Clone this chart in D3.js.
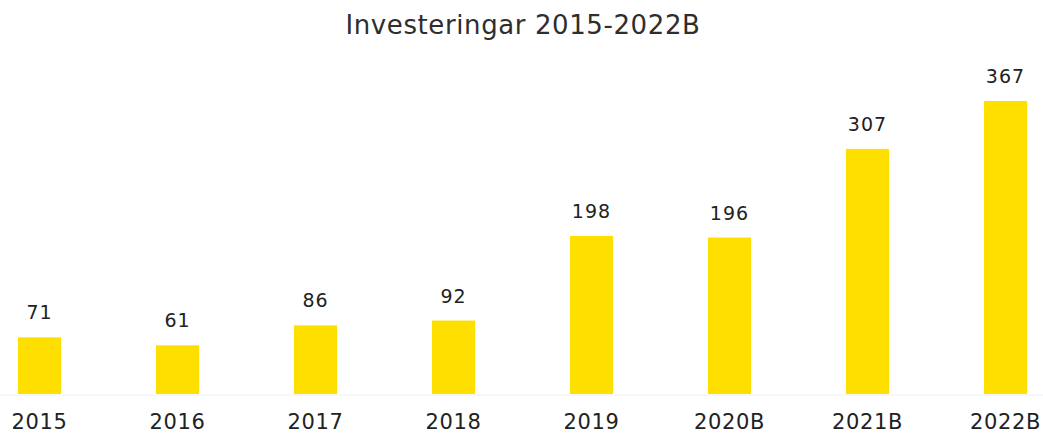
<!DOCTYPE html>
<html>
<head>
<meta charset="utf-8">
<script src="https://cdn.jsdelivr.net/npm/d3@7"></script>
<style>
  html, body { margin: 0; padding: 0; background: #fff; }
  svg { display: block; font-family: "DejaVu Sans", Verdana, sans-serif; }
</style>
</head>
<body>
<div id="chart"></div>
<script>
const years = ['2015', '2016', '2017', '2018', '2019', '2020B', '2021B', '2022B'];
const investments = [71, 61, 86, 92, 198, 196, 307, 367];

const W = 1043, H = 434;
const BAR_COLOR = '#FFDF00';

const svg = d3.select('#chart').append('svg')
  .attr('width', W)
  .attr('height', H);

svg.append('text')
  .attr('x', 523)
  .attr('y', 34)
  .attr('text-anchor', 'middle')
  .attr('font-size', '26px')
  .attr('letter-spacing', '0.6px')
  .attr('fill', '#2e2e2e')
  .text('Investeringar 2015-2022B');

const x = d3.scaleBand()
  .domain(years)
  .range([-29.5, 1074.5])
  .paddingInner(0.688)
  .paddingOuter(0.344);

const y = d3.scaleLinear()
  .domain([0, 367])
  .range([394, 101]);

// faint baseline
svg.append('line')
  .attr('x1', 0).attr('x2', W)
  .attr('y1', y(0) + 1).attr('y2', y(0) + 1)
  .attr('stroke', '#eef0f6')
  .attr('stroke-width', 1);

const rows = years.map((year, i) => ({ year, value: investments[i] }));

svg.selectAll('rect.bar')
  .data(rows)
  .join('rect')
  .attr('class', 'bar')
  .attr('x', (d) => x(d.year))
  .attr('y', (d) => y(d.value))
  .attr('width', x.bandwidth())
  .attr('height', (d) => y(0) - y(d.value))
  .attr('fill', BAR_COLOR);

svg.selectAll('text.value')
  .data(rows)
  .join('text')
  .attr('class', 'value')
  .attr('x', (d) => x(d.year) + x.bandwidth() / 2)
  .attr('y', (d) => y(d.value) - 18)
  .attr('text-anchor', 'middle')
  .attr('font-size', '19px')
  .attr('letter-spacing', '1px')
  .attr('fill', '#222')
  .text((d) => d.value);

const xAxis = svg.append('g')
  .attr('transform', `translate(0,${y(0)})`)
  .call(d3.axisBottom(x).tickSize(0).tickPadding(20));
xAxis.select('.domain').remove();
xAxis.selectAll('text')
  .attr('font-family', '"DejaVu Sans", Verdana, sans-serif')
  .attr('font-size', '21px')
  .attr('letter-spacing', '0.6px')
  .attr('fill', '#222');
</script>
</body>
</html>
